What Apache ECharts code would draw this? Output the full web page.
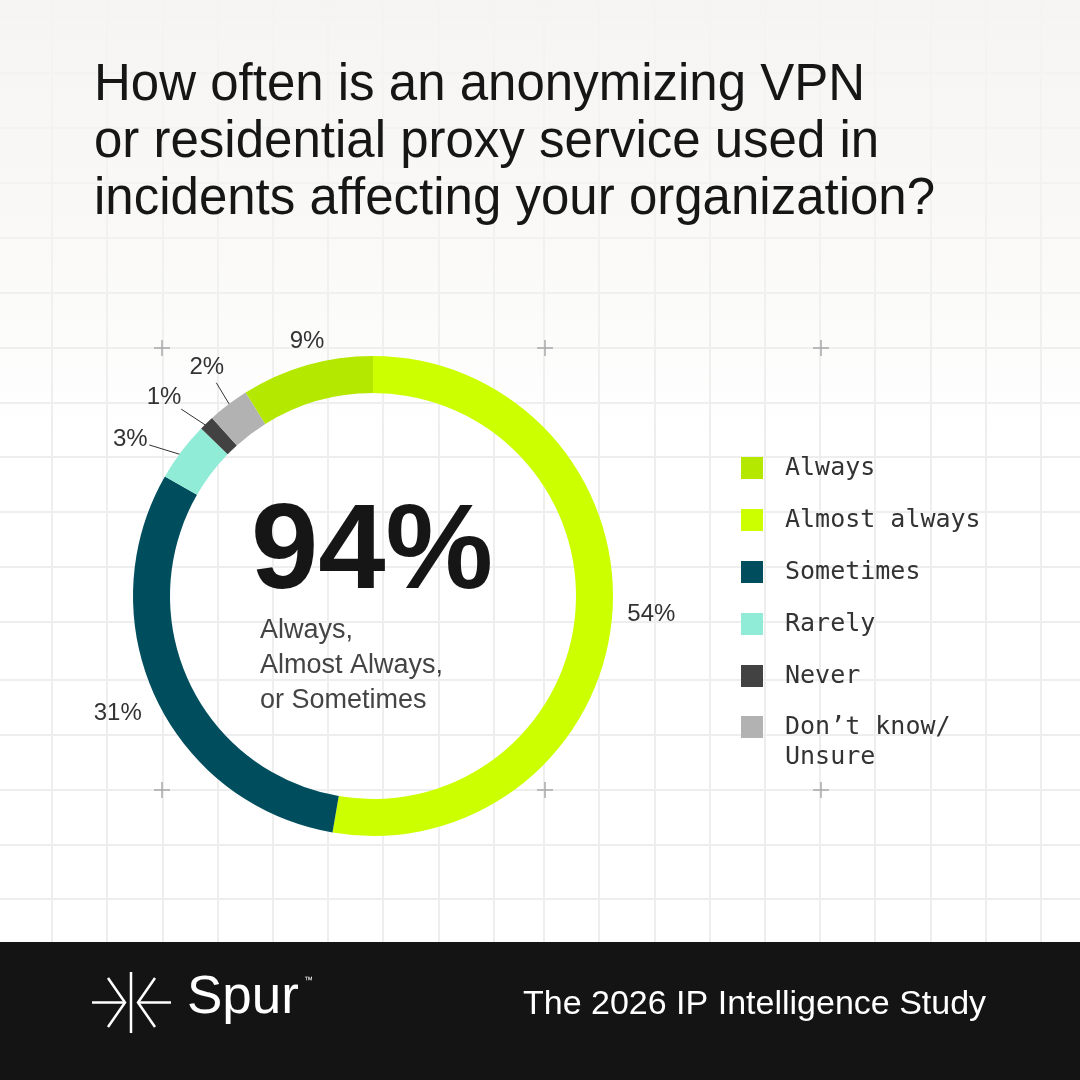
<!DOCTYPE html>
<html><head><meta charset="utf-8">
<script src="https://cdn.jsdelivr.net/npm/echarts@6/dist/echarts.min.js"></script>
<style>html,body{margin:0;padding:0;background:#fff}#c{width:1080px;height:1080px}</style>
</head><body><div id="c"></div>
<script>
// ---- data ----
const categories = ['Always', 'Almost always', 'Sometimes', 'Rarely', 'Never', 'Don\u2019t know/\nUnsure'];
const values = [8.9, 52.7, 30.6, 4.0, 1.0, 2.8];          // arc shares as drawn
const pctLabels = ['9%', '54%', '31%', '3%', '1%', '2%'];  // printed labels
const colors = ['#b4e800', '#ccff00', '#004d5d', '#90ebd7', '#424242', '#b2b2b2'];
const ringOrder = [1, 2, 3, 4, 5, 0]; // clockwise from 12 o'clock
const titleLines = ['How often is an anonymizing VPN', 'or residential proxy service used in', 'incidents affecting your organization?'];
const bigNumber = '94%';
const bigCaption = ['Always,', 'Almost Always,', 'or Sometimes'];
const brandName = 'Spur';
const studyName = 'The 2026 IP Intelligence Study';

// ---- layout ----
const CX = 373, CY = 596, R0 = 203, R1 = 240;
const labelPlace = {
  0: {shift: 1.5, r: 263},
  1: {shift: -1, r: 279},
  2: {shift: 0.5, r: 281},
  3: {shift: -4.2, r: 289, leader: true},
  4: {shift: -2.6, r: 288, leader: true},
  5: {shift: 1.1, r: 283, leader: true}
};
const total = values.reduce((a, b) => a + b, 0);
const mids = [];
let acc = 0;
ringOrder.forEach(ci => { mids.push((acc + values[ci] / 2) / total * 360); acc += values[ci]; });

const pieData = ringOrder.map(ci => ({
  name: categories[ci],
  value: values[ci],
  itemStyle: {color: colors[ci]},
  labelLine: {show: !!labelPlace[ci].leader}
}));

const gridX = [52, 107, 163, 218, 273, 328, 383, 439, 494, 544, 599, 655, 710, 765, 820, 875, 931, 986, 1041];
const gridY = [18, 73, 128, 183, 238, 293, 348, 403, 457, 512, 567, 622, 680, 735, 790, 845, 899];
const plusPts = [[162, 348], [545, 348], [821, 348], [162, 790], [545, 790], [821, 790]];

const els = [];
gridX.forEach(x => els.push({type: 'line', z: 0, silent: true, shape: {x1: x, y1: 0, x2: x, y2: 942}, style: {stroke: '#eeeeee', lineWidth: 2}}));
gridY.forEach(y => els.push({type: 'line', z: 0, silent: true, shape: {x1: 0, y1: y, x2: 1080, y2: y}, style: {stroke: '#eeeeee', lineWidth: 2}}));
els.push({type: 'rect', z: 1, silent: true, shape: {x: 0, y: 0, width: 1080, height: 440},
  style: {fill: new echarts.graphic.LinearGradient(0, 0, 0, 1, [
    {offset: 0, color: 'rgba(245,244,242,0.95)'},
    {offset: 0.5, color: 'rgba(245,244,242,0.6)'},
    {offset: 1, color: 'rgba(245,244,242,0)'}])}});
plusPts.forEach(p => {
  els.push({type: 'line', z: 1, silent: true, shape: {x1: p[0] - 8, y1: p[1], x2: p[0] + 8, y2: p[1]}, style: {stroke: '#a9a9a9', lineWidth: 1.5}});
  els.push({type: 'line', z: 1, silent: true, shape: {x1: p[0], y1: p[1] - 8, x2: p[0], y2: p[1] + 8}, style: {stroke: '#a9a9a9', lineWidth: 1.5}});
});
// footer
els.push({type: 'rect', z: 5, silent: true, shape: {x: 0, y: 942, width: 1080, height: 138}, style: {fill: '#141414'}});
const logoStroke = {stroke: '#ffffff', lineWidth: 2.5, fill: null};
els.push({type: 'line', z: 6, shape: {x1: 131, y1: 972, x2: 131, y2: 1033}, style: logoStroke});
els.push({type: 'line', z: 6, shape: {x1: 92, y1: 1002.5, x2: 124, y2: 1002.5}, style: logoStroke});
els.push({type: 'line', z: 6, shape: {x1: 138, y1: 1002.5, x2: 171, y2: 1002.5}, style: logoStroke});
els.push({type: 'polyline', z: 6, shape: {points: [[108, 978], [125, 1002.5], [108, 1027]]}, style: logoStroke});
els.push({type: 'polyline', z: 6, shape: {points: [[155, 978], [138, 1002.5], [155, 1027]]}, style: logoStroke});
els.push({type: 'text', z: 6, style: {text: brandName, x: 187, y: 998, fill: '#fff', fontFamily: 'Liberation Sans', fontSize: 53, verticalAlign: 'middle'}});
els.push({type: 'text', z: 6, style: {text: '\u2122', x: 304, y: 981, fill: '#fff', fontFamily: 'Liberation Sans', fontSize: 9, verticalAlign: 'middle'}});
els.push({type: 'text', z: 6, style: {text: studyName, x: 523, y: 1005, fill: '#fff', fontFamily: 'Liberation Sans', fontSize: 34, verticalAlign: 'middle'}});
// headline and centre text
els.push({type: 'text', z: 10, style: {text: titleLines.join('\n'), x: 94, y: 57, fill: '#161616', fontFamily: 'Liberation Sans', fontSize: 51, lineHeight: 57, verticalAlign: 'top'}});
els.push({type: 'text', z: 10, style: {text: bigNumber, x: 251, y: 555, fill: '#161616', fontFamily: 'Liberation Sans', fontWeight: 'bold', fontSize: 121, verticalAlign: 'middle'}});
els.push({type: 'text', z: 10, style: {text: bigCaption.join('\n'), x: 260, y: 613, fill: '#444444', fontFamily: 'Liberation Sans', fontSize: 27, lineHeight: 35, verticalAlign: 'top'}});

const legendText = {fontFamily: 'DejaVu Sans Mono', fontSize: 25, color: '#333333', lineHeight: 30, padding: [0, 0, 0, 17]};
const legendBase = {orient: 'vertical', left: 741, padding: 0, itemWidth: 22, itemHeight: 22, itemGap: 22, selectedMode: false, textStyle: legendText};

const chart = echarts.init(document.getElementById('c'), null, {renderer: 'canvas'});
chart.setOption({
  backgroundColor: '#ffffff',
  animation: false,
  graphic: {elements: els},
  legend: [
    Object.assign({}, legendBase, {
      top: 453,
      data: categories.slice(0, 5).map(n => ({name: n, icon: 'rect'}))
    }),
    Object.assign({}, legendBase, {
      top: 682,
      data: categories.slice(5).map(n => ({name: n, icon: 'rect'})),
      formatter: name => ' \n' + name
    })
  ],
  series: [{
    type: 'pie',
    center: [CX, CY],
    radius: [R0, R1],
    startAngle: 90,
    clockwise: true,
    avoidLabelOverlap: false,
    silent: true,
    emphasis: {disabled: true},
    itemStyle: {borderWidth: 0},
    label: {
      show: true, position: 'outside',
      formatter: p => pctLabels[ringOrder[p.dataIndex]],
      fontFamily: 'Liberation Sans', fontSize: 24, lineHeight: 24, color: '#333333'
    },
    labelLine: {show: true, length: 10, length2: 0, lineStyle: {color: '#333333', width: 1}},
    labelLayout: function (params) {
      const k = params.dataIndex;
      const ci = ringOrder[k];
      const cfg = labelPlace[ci];
      const a = (mids[k] + cfg.shift) * Math.PI / 180;
      const tx = CX + cfg.r * Math.sin(a), ty = CY - cfg.r * Math.cos(a);
      const res = {x: tx, y: ty, align: 'center', verticalAlign: 'middle'};
      if (cfg.leader) {
        const am = mids[k] * Math.PI / 180;
        const sx = CX + 230 * Math.sin(am), sy = CY - 230 * Math.cos(am);
        const dx = tx - sx, dy = ty - sy, L = Math.hypot(dx, dy);
        const ux = dx / L, uy = dy / L;
        const w = params.labelRect.width, h = params.labelRect.height;
        const back = Math.abs(ux) * w / 2 + Math.abs(uy) * (h / 2 - 1);
        const ex = tx - ux * back, ey = ty - uy * back;
        res.labelLinePoints = [[sx, sy], [ex, ey], [ex, ey]];
      }
      return res;
    },
    data: pieData
  }]
});
</script></body></html>
